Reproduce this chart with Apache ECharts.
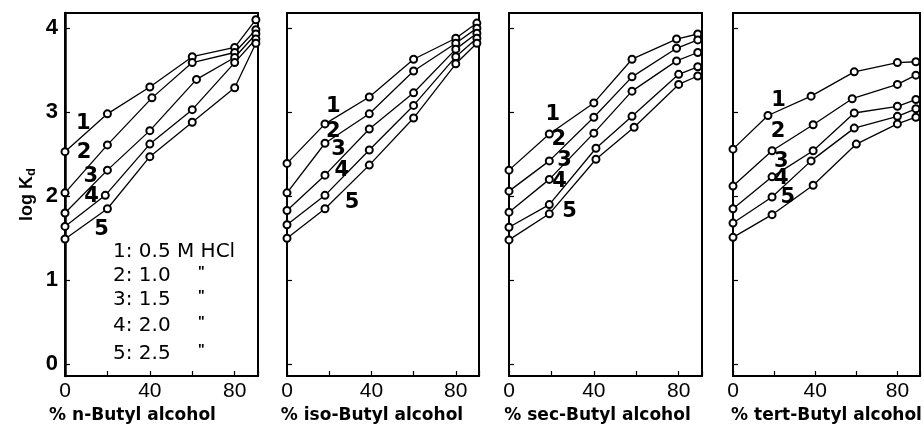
<!DOCTYPE html>
<html><head><meta charset="utf-8">
<script src="https://cdn.jsdelivr.net/npm/echarts@6/dist/echarts.min.js"></script>
<style>html,body{margin:0;padding:0;background:#fff}#c{width:924px;height:425px}</style>
</head><body><div id="c"></div>
<script>
// ---- data ----
const curveNames = ['1', '2', '3', '4', '5'];
const keyLabels = ['1: 0.5 M HCl', '2: 1.0', '3: 1.5', '4: 2.0', '5: 2.5'];
const dittoMark = '"';
const yTickValues = [0, 1, 2, 3, 4];
const xTickLabelValues = [0, 40, 80];
const panelTitles = ['% n-Butyl alcohol', '% iso-Butyl alcohol', '% sec-Butyl alcohol', '% tert-Butyl alcohol'];

// x positions (% alcohol) per curve
const nButylX = [[0,20,40,60,80,90],[0,20,41,60,80,90],[0,20,40,62,80,90],[0,19,40,60,80,90],[0,20,40,60,80,90]];
const isoButylX = [[0,18,39,60,80,90],[0,18,39,60,80,90],[0,18,39,60,80,90],[0,18,39,60,80,90],[0,18,39,60,80,90]];
const secButylX = [[0,19,40,58,79,89],[0,19,40,58,79,89],[0,19,40,58,79,89],[0,19,41,58,80,89],[0,19,41,59,80,89]];
const tertButylX = [[0,17,38,59,80,89],[0,19,39,58,80,89],[0,19,39,59,80,89],[0,19,38,59,80,89],[0,19,39,60,80,89]];

// log Kd per curve (1: 0.5 M ... 5: 2.5 M HCl)
const nButylY = [
  [2.53, 2.98, 3.30, 3.66, 3.77, 4.10],
  [2.04, 2.61, 3.17, 3.59, 3.71, 3.98],
  [1.80, 2.31, 2.78, 3.39, 3.65, 3.93],
  [1.64, 2.01, 2.62, 3.03, 3.59, 3.87],
  [1.49, 1.85, 2.47, 2.88, 3.29, 3.82]
];
const isoButylY = [
  [2.39, 2.86, 3.18, 3.63, 3.88, 4.06],
  [2.04, 2.63, 2.98, 3.49, 3.82, 4.00],
  [1.83, 2.25, 2.80, 3.23, 3.75, 3.94],
  [1.66, 2.01, 2.55, 3.08, 3.66, 3.88],
  [1.50, 1.85, 2.37, 2.93, 3.575, 3.82]
];
const secButylY = [
  [2.31, 2.74, 3.11, 3.63, 3.87, 3.93],
  [2.06, 2.42, 2.94, 3.42, 3.76, 3.86],
  [1.81, 2.20, 2.75, 3.25, 3.61, 3.71],
  [1.63, 1.90, 2.57, 2.95, 3.45, 3.54],
  [1.48, 1.79, 2.44, 2.82, 3.33, 3.43]
];
const tertButylY = [
  [2.56, 2.96, 3.19, 3.48, 3.59, 3.60],
  [2.12, 2.54, 2.85, 3.16, 3.33, 3.44],
  [1.85, 2.23, 2.54, 2.99, 3.07, 3.15],
  [1.68, 1.99, 2.42, 2.81, 2.95, 3.04],
  [1.51, 1.78, 2.13, 2.62, 2.86, 2.94]
];

// curve-number tags (data coordinates)
const nButylTags = [[8.6, 2.87], [9, 2.52], [12.2, 2.23], [12.5, 2.0], [17.2, 1.6]];
const isoButylTags = [[22, 3.07], [22, 2.77], [24.4, 2.55], [26, 2.31], [30.8, 1.92]];
const secButylTags = [[20.7, 2.97], [23.5, 2.67], [26.2, 2.43], [23.8, 2.17], [28.5, 1.82]];
const tertButylTags = [[22.2, 3.14], [21.9, 2.77], [23.5, 2.41], [23.5, 2.21], [26.7, 1.98]];

// ---- build ----
const panelsX = [nButylX, isoButylX, secButylX, tertButylX];
const panelsY = [nButylY, isoButylY, secButylY, tertButylY];
const panelsTags = [nButylTags, isoButylTags, secButylTags, tertButylTags];

const gridBoxes = [
  { left: 65, width: 193 },
  { left: 287, width: 192 },
  { left: 509, width: 193 },
  { left: 733, width: 187 }
];
const titleShift = [58, 22, 16, 0];
const FONT = '"Liberation Sans", "DejaVu Sans", sans-serif';
const WIDE = '"DejaVu Sans", "Liberation Sans", sans-serif';

const grid = gridBoxes.map(g => ({
  left: g.left, width: g.width, top: 13, bottom: 49,
  show: true, borderColor: '#000', borderWidth: 2, backgroundColor: 'transparent',
  containLabel: false, outerBoundsMode: 'none'
}));

const xAxis = gridBoxes.map((g, i) => ({
  type: 'value', gridIndex: i, min: 0, max: 91, interval: 20,
  axisLine: { show: true, onZero: false, lineStyle: { color: '#000', width: 2 } },
  axisTick: { show: true, inside: true, length: 5, lineStyle: { color: '#000', width: 1.2 } },
  axisLabel: {
    show: true, margin: 5, color: '#000', fontSize: 21, fontFamily: FONT,
    formatter: v => (xTickLabelValues.indexOf(v) >= 0 ? String(v) : '')
  },
  splitLine: { show: false },
  name: panelTitles[i], nameLocation: 'middle', nameGap: 26,
  nameTextStyle: { color: '#000', fontSize: 17, fontWeight: 'bold', fontFamily: WIDE, padding: [0, titleShift[i], 0, 0] }
}));

const yAxis = gridBoxes.map((g, i) => ({
  type: 'value', gridIndex: i, min: -0.14, max: 4.18,
  axisLine: { show: true, onZero: false, lineStyle: { color: '#000', width: i === 0 ? 2.5 : 2 } },
  axisTick: { show: true, inside: true, length: 5, customValues: yTickValues, lineStyle: { color: '#000', width: 1.2 } },
  axisLabel: { show: i === 0, customValues: yTickValues, margin: 7, color: '#000', fontSize: 22, fontWeight: 'bold', fontFamily: FONT },
  splitLine: { show: false },
  name: i === 0 ? '{m|log K}{s|d}' : '',
  nameLocation: 'middle', nameGap: 27, nameRotate: 90,
  nameTextStyle: {
    color: '#000', fontFamily: FONT,
    rich: {
      m: { fontSize: 18, fontWeight: 'bold', fontFamily: FONT, color: '#000', lineHeight: 22 },
      s: { fontSize: 13, fontWeight: 'bold', fontFamily: FONT, color: '#000', verticalAlign: 'bottom', lineHeight: 22, padding: [8, 0, 0, 0] }
    }
  }
}));

const series = [];
panelsY.forEach((curves, p) => {
  curves.forEach((ys, c) => {
    series.push({
      type: 'line', name: curveNames[c], xAxisIndex: p, yAxisIndex: p,
      data: ys.map((y, k) => [panelsX[p][c][k], y]),
      symbol: 'emptyCircle', symbolSize: 7, clip: false,
      lineStyle: { color: '#000', width: 1.3 },
      itemStyle: { color: '#000', borderColor: '#000', borderWidth: 1.1 },
      z: 3
    });
  });
  series.push({
    type: 'scatter', xAxisIndex: p, yAxisIndex: p, symbolSize: 0, silent: true,
    itemStyle: { color: '#000', opacity: 1 },
    data: panelsTags[p].map((t, c) => ({ value: t, name: curveNames[c] })),
    label: { show: true, position: 'inside', formatter: d => d.name, color: '#000', opacity: 1, fontSize: 21, fontWeight: 'bold', fontFamily: WIDE },
    z: 4
  });
});

const keyRowsY = [252, 276, 300, 326, 354];
const graphic = [];
keyLabels.forEach((t, i) => {
  graphic.push({ type: 'text', x: 113, y: keyRowsY[i], style: { text: t, font: '20px ' + WIDE, fill: '#000', verticalAlign: 'middle' } });
  if (i > 0) graphic.push({ type: 'text', x: 198, y: keyRowsY[i] - 4, style: { text: dittoMark, font: 'bold 14px ' + FONT, fill: '#000', verticalAlign: 'middle' } });
});

const chart = echarts.init(document.getElementById('c'), null, { renderer: 'canvas' });
chart.setOption({
  animation: false,
  backgroundColor: '#fff',
  grid, xAxis, yAxis, series, graphic
});
</script>
</body></html>
